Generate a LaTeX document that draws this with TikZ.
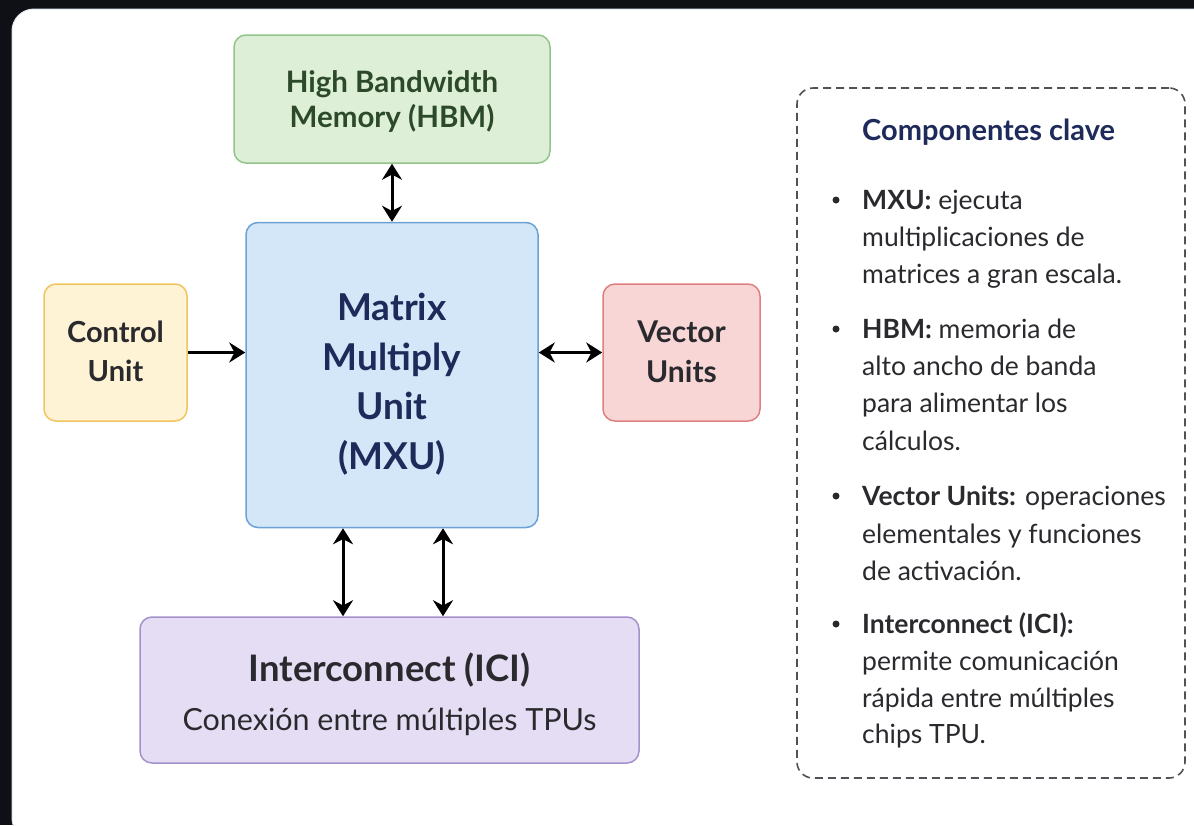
\documentclass[tikz,border=0pt]{standalone}
\usepackage{fontspec}
\setmainfont{Lato}
\usetikzlibrary{arrows.meta,calc}
\definecolor{bgdark}{HTML}{0E1016}
\definecolor{cardline}{HTML}{E3E7EF}
\definecolor{hbmfill}{HTML}{DDEFD7}
\definecolor{hbmdraw}{HTML}{93C48B}
\definecolor{hbmtext}{HTML}{2C4A2A}
\definecolor{mxufill}{HTML}{D4E7F8}
\definecolor{mxudraw}{HTML}{6CA1D6}
\definecolor{navy}{HTML}{1E2A5A}
\definecolor{cufill}{HTML}{FFF3D5}
\definecolor{cudraw}{HTML}{F1C45E}
\definecolor{vufill}{HTML}{F8D6D6}
\definecolor{vudraw}{HTML}{DF8080}
\definecolor{icifill}{HTML}{E5DDF3}
\definecolor{icidraw}{HTML}{A591CC}
\definecolor{txt}{HTML}{2A2A2E}
\definecolor{dashc}{HTML}{505258}
\tikzset{
  blk/.style={rounded corners=12pt, line width=1.5pt, inner sep=0pt},
  lbl/.style={anchor=base, inner sep=0pt},
  conn/.style={line width=3pt, black},
  bi/.style={conn, {Stealth[length=16pt,width=20pt]}-{Stealth[length=16pt,width=20pt]}},
  uni/.style={conn, -{Stealth[length=16pt,width=20pt]}},
  leg/.style={anchor=base west, inner sep=0pt, text=txt, font=\fontsize{26.5}{30}\selectfont},
  bul/.style={circle, fill=txt, inner sep=0pt, minimum size=7pt}
}
\begin{document}
\begin{tikzpicture}[x=1pt,y=-1pt]
\useasboundingbox (0,0) rectangle (1194,825);
\fill[bgdark] (0,0) rectangle (1194,825);
\fill[white, draw=cardline, line width=1pt, rounded corners=22pt] (12,9) rectangle (1215,840);
% boxes
\node[blk, fill=hbmfill, draw=hbmdraw, minimum width=316pt, minimum height=128pt] (hbm) at (392,99) {};
\node[blk, fill=mxufill, draw=mxudraw, minimum width=292pt, minimum height=305pt] (mxu) at (392,375) {};
\node[blk, fill=cufill, draw=cudraw, minimum width=143pt, minimum height=137pt] (cu) at (115.5,352.5) {};
\node[blk, fill=vufill, draw=vudraw, minimum width=157pt, minimum height=137pt] (vu) at (681.5,352.5) {};
\node[blk, fill=icifill, draw=icidraw, minimum width=499pt, minimum height=146pt] (ici) at (389.5,690) {};
% box labels
\begin{scope}[every node/.append style={lbl}]
\node[text=hbmtext, font=\fontsize{29.5}{30}\selectfont\bfseries] (h1) at (392,92) {High Bandwidth};
\node[text=hbmtext, font=\fontsize{29.5}{30}\selectfont\bfseries] (h2) at (392,127) {Memory (HBM)};
\node[text=navy, font=\fontsize{37}{40}\selectfont\bfseries] (m1) at (392,320) {Matrix};
\node[text=navy, font=\fontsize{37}{40}\selectfont\bfseries] (m2) at (392,370) {Multiply};
\node[text=navy, font=\fontsize{37}{40}\selectfont\bfseries] (m3) at (392,419) {Unit};
\node[text=navy, font=\fontsize{37}{40}\selectfont\bfseries] (m4) at (392,469) {(MXU)};
\node[text=txt, font=\fontsize{29}{30}\selectfont\bfseries] (c1) at (115.5,342) {Control};
\node[text=txt, font=\fontsize{29}{30}\selectfont\bfseries] (c2) at (115.5,381) {Unit};
\node[text=txt, font=\fontsize{30}{30}\selectfont\bfseries] (v1) at (681.5,342) {Vector};
\node[text=txt, font=\fontsize{30}{30}\selectfont\bfseries] (v2) at (681.5,382) {Units};
\node[text=txt, font=\fontsize{36.5}{40}\selectfont\bfseries] (i1) at (389.5,681) {Interconnect (ICI)};
\node[text=txt, font=\fontsize{30.5}{34}\selectfont] (i2) at (389.5,730) {Conexión entre múltiples TPUs};
\end{scope}
% connectors
\draw[bi] (hbm.south) -- (mxu.north);
\draw[uni] (cu.east) -- (cu.east -| mxu.west);
\draw[bi] (mxu.east |- vu.west) -- (vu.west);
\coordinate (a1) at ([xshift=-49pt]mxu.south);
\coordinate (a2) at ([xshift=51pt]mxu.south);
\draw[bi] (a1) -- (a1 |- ici.north);
\draw[bi] (a2) -- (a2 |- ici.north);
% legend
\node[draw=dashc, dashed, dash pattern=on 8pt off 5pt, line width=1.6pt, rounded corners=16pt,
  minimum width=388pt, minimum height=690pt, inner sep=0pt] (leg) at (991,433) {};
\node[anchor=base west, inner sep=0pt, text=navy, font=\fontsize{29}{30}\selectfont\bfseries] (title) at (862,140) {Componentes clave};
\node[leg] (a1l1) at (862,209) {\textbf{MXU:} ejecuta};
\node[leg] (a1l2) at (862,246) {multiplicaciones de};
\node[leg] (a1l3) at (862,283) {matrices a gran escala.};
\node[leg] (a2l1) at (862,338) {\textbf{HBM:} memoria de};
\node[leg] (a2l2) at (862,375) {alto ancho de banda};
\node[leg] (a2l3) at (862,412) {para alimentar los};
\node[leg] (a2l4) at (862,450) {cálculos.};
\node[leg] (a3l1) at (862,505) {\textbf{Vector Units:} operaciones};
\node[leg] (a3l2) at (862,543) {elementales y funciones};
\node[leg] (a3l3) at (862,580) {de activación.};
\node[leg] (a4l1) at (862,633) {\textbf{Interconnect (ICI):}};
\node[leg] (a4l2) at (862,670) {permite comunicación};
\node[leg] (a4l3) at (862,707) {rápida entre múltiples};
\node[leg] (a4l4) at (862,743) {chips TPU.};
\node[bul] (b1) at (836,200) {};
\node[bul] (b2) at (836,329) {};
\node[bul] (b3) at (836,496) {};
\node[bul] (b4) at (836,624) {};
\end{tikzpicture}
\end{document}
